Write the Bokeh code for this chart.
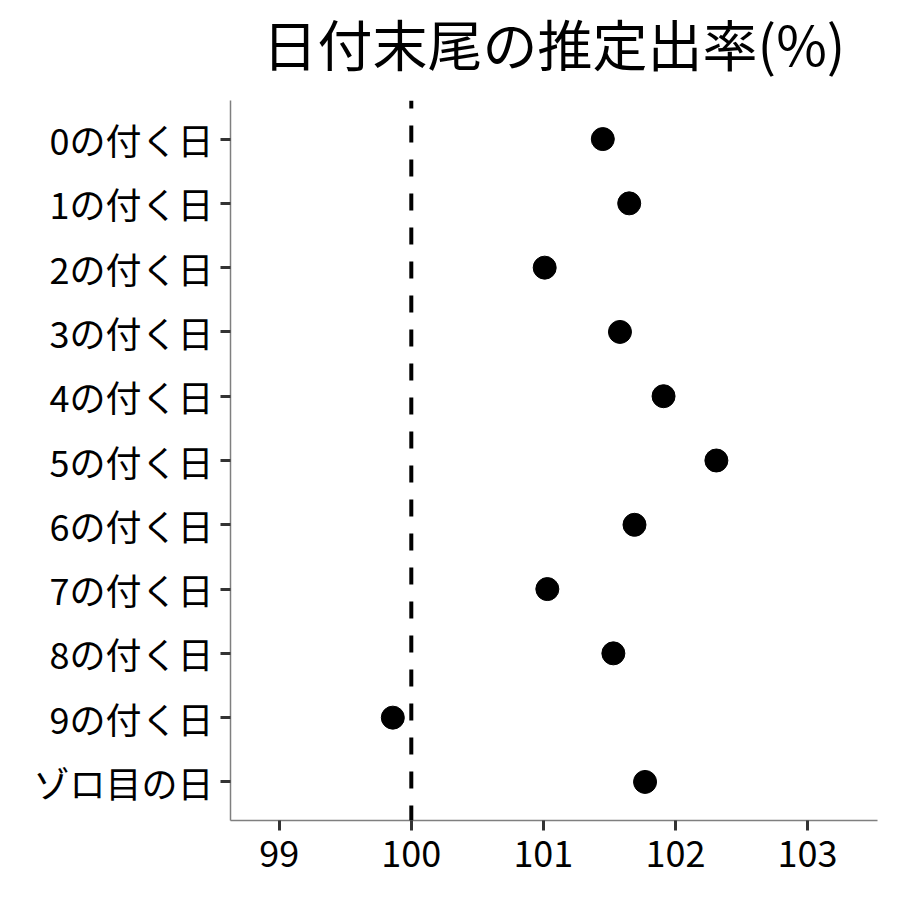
from bokeh.plotting import figure
from bokeh.models import FactorRange, Range1d, Span, FixedTicker
from bokeh.layouts import column
from bokeh.core.properties import value
from bokeh.embed import file_html
from bokeh.resources import INLINE

# ---- data ----
categories = ["0の付く日", "1の付く日", "2の付く日", "3の付く日", "4の付く日",
              "5の付く日", "6の付く日", "7の付く日", "8の付く日", "9の付く日",
              "ゾロ目の日"]
rates = [101.45, 101.65, 101.01, 101.58, 101.91, 102.31,
         101.69, 101.03, 101.53, 99.86, 101.77]
x_ticks = [99, 100, 101, 102, 103]
reference_rate = 100
title_text = "日付末尾の推定出率(%)"

FONT = "Noto Sans CJK JP"
X_START, X_END = 98.631, 103.53

x_range = Range1d(X_START, X_END)

# ---- title strip (same horizontal frame as the chart) ----
t = figure(
    width=892, height=100,
    x_range=x_range, y_range=Range1d(0, 100),
    x_axis_type=None, y_axis_type=None,
    output_backend="svg", toolbar_location=None,
    min_border_left=230, min_border_right=15,
    min_border_top=0, min_border_bottom=0,
)
t.xgrid.visible = False
t.ygrid.visible = False
t.outline_line_color = None
t.text(x=[(X_START + X_END) / 2], y=[59], text=[title_text],
       text_font=value(FONT), text_font_size="55px", text_color="black",
       text_align="center", text_baseline="alphabetic")

# ---- main chart ----
p = figure(
    width=892, height=792,
    x_range=x_range,
    y_range=FactorRange(factors=categories[::-1], range_padding=0.1,
                        range_padding_units="absolute"),
    output_backend="svg", toolbar_location=None,
    min_border_left=230, min_border_right=15,
    min_border_top=0, min_border_bottom=72,
)

p.xgrid.visible = False
p.ygrid.visible = False
p.outline_line_color = None
p.background_fill_color = "white"
p.border_fill_color = "white"

for ax in (p.xaxis[0], p.yaxis[0]):
    ax.axis_line_color = "#7f7f7f"
    ax.axis_line_width = 1.5
    ax.major_tick_line_color = "#333333"
    ax.major_tick_line_width = 3
    ax.major_tick_out = 10
    ax.major_tick_in = 0
    ax.minor_tick_line_color = None
    ax.major_label_text_font = FONT
    ax.major_label_text_font_size = "36px"
    ax.major_label_text_color = "black"

p.xaxis[0].ticker = FixedTicker(ticks=x_ticks)
p.xaxis[0].major_label_standoff = 10
p.yaxis[0].major_label_standoff = 7

p.add_layout(Span(location=reference_rate, dimension="height",
                  line_color="black", line_width=4, line_dash="17 17",
                  line_dash_offset=9))

p.scatter(x=rates, y=categories, size=23, color="black")

layout = column(t, p, spacing=0)
open("out.html", "w").write(file_html(layout, INLINE))
